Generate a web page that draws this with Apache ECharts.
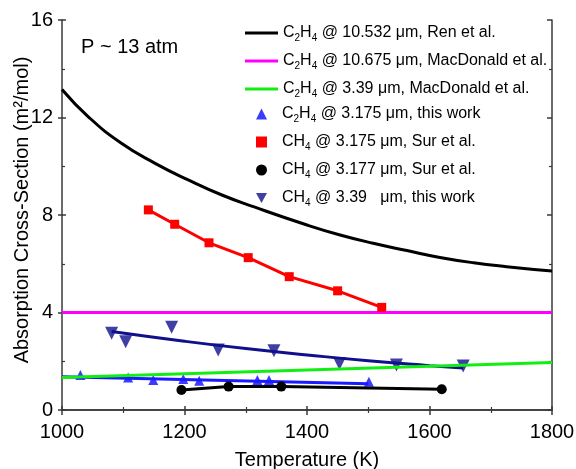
<!DOCTYPE html>
<html>
<head>
<meta charset="utf-8">
<script src="https://cdn.jsdelivr.net/npm/echarts@6/dist/echarts.min.js"></script>
<style>
  html, body { margin: 0; padding: 0; background: #fff; }
  #chart { width: 576px; height: 469px; }
</style>
</head>
<body>
<div id="chart"></div>
<script>
// C2H4 @ 10.532 um, Ren et al. (curve)
const renT = [1000, 1043, 1097, 1152, 1206, 1261, 1315, 1400, 1454, 1508, 1563, 1617, 1672, 1726, 1800]
const renY = [13.15, 12.03, 10.94, 10.12, 9.44, 8.82, 8.32, 7.59, 7.18, 6.84, 6.54, 6.26, 6.04, 5.88, 5.70]

// C2H4 @ 10.675 um, MacDonald (flat)
const macT = [1000, 1800]
const macY = [4.0, 4.0]

// C2H4 @ 3.39 um, MacDonald
const mac339T = [1000, 1800]
const mac339Y = [1.33, 1.95]

// C2H4 @ 3.175 um, this work
const c2h4T = [1030, 1108, 1149, 1198, 1224, 1319, 1338, 1501]
const c2h4Y = [1.44, 1.33, 1.23, 1.27, 1.20, 1.23, 1.23, 1.16]
const c2h4FitT = [1000, 1500]
const c2h4FitY = [1.36, 1.08]

// CH4 @ 3.175 um, Sur
const surT = [1141, 1184, 1240, 1304, 1371, 1450, 1522]
const surY = [8.21, 7.62, 6.86, 6.25, 5.47, 4.89, 4.21]

// CH4 @ 3.177 um, Sur
const sur177T = [1195, 1272, 1358, 1620]
const sur177Y = [0.82, 0.96, 0.96, 0.85]

// CH4 @ 3.39 um, this work
const ch4T = [1081, 1104, 1179, 1255, 1346, 1453, 1546, 1655]
const ch4Y = [3.15, 2.80, 3.39, 2.46, 2.43, 1.91, 1.85, 1.81]
const ch4FitT = [1081, 1200, 1300, 1400, 1500, 1600, 1655]
const ch4FitY = [3.22, 2.82, 2.52, 2.26, 2.02, 1.82, 1.72]

const names = [
  'C2H4 @ 10.532 μm, Ren et al.',
  'C2H4 @ 10.675 μm, MacDonald et al.',
  'C2H4 @ 3.39 μm, MacDonald et al.',
  'C2H4 @ 3.175 μm, this work',
  'CH4 @ 3.175 μm, Sur et al.',
  'CH4 @ 3.177 μm, Sur et al.',
  'CH4 @ 3.39   μm, this work'
]

const pairs = (xs, ys) => xs.map((x, i) => [x, ys[i]])

// legend text with subscripts
const richName = (name) => {
  return name
    .replace(/^C2H4/, '{t|C}{s|2}{t|H}{s|4}')
    .replace(/^CH4/, '{t|CH}{s|4}')
    .replace(/\}([^{}]+)$/, '}{t|$1}')
}

const font = "'Liberation Sans', Arial, sans-serif"
const frame = '#3a3a3a'
const lineIcon = 'path://M0,0h33v3.2h-33z'
const downTriIcon = 'path://M0,0L10,0L5,9Z'
const rowH = 27
const legendTop = 25

const richStyle = {
  t: { fontSize: 16, fontFamily: font, color: '#000', lineHeight: 20 },
  s: { fontSize: 10, fontFamily: font, color: '#000', lineHeight: 10, verticalAlign: 'bottom' },
  p: { width: 10 }
}

const chart = echarts.init(document.getElementById('chart'))

const baseX = { type: 'value', min: 1000, max: 1800, interval: 200, splitLine: { show: false } }
const baseY = { type: 'value', min: 0, max: 16, interval: 4, splitLine: { show: false } }

chart.setOption({
  animation: false,
  grid: { left: 62, right: 24, top: 20, bottom: 59, containLabel: false, outerBoundsMode: 'none' },
  graphic: [{
    type: 'text', left: 81, top: 37,
    style: { text: 'P ~ 13 atm', font: '20px ' + font, fill: '#000' }
  }],
  legend: [
    {
      orient: 'vertical',
      left: 245,
      top: legendTop,
      padding: 0,
      itemWidth: 33,
      itemHeight: 12,
      itemGap: 10,
      data: [
        { name: names[0], icon: lineIcon },
        { name: names[1], icon: lineIcon },
        { name: names[2], icon: lineIcon }
      ],
      formatter: richName,
      textStyle: { rich: richStyle }
    },
    {
      orient: 'vertical',
      left: 256,
      top: legendTop + 3 * rowH,
      padding: 0,
      itemWidth: 11,
      itemHeight: 11,
      itemGap: 10,
      data: [
        { name: names[3], icon: 'triangle' },
        { name: names[4], icon: 'rect' },
        { name: names[5], icon: 'circle' },
        { name: names[6], icon: downTriIcon }
      ],
      formatter: (name) => '{p|}' + richName(name),
      textStyle: { rich: richStyle }
    }
  ],
  xAxis: [
    {
      ...baseX, position: 'bottom',
      name: 'Temperature (K)', nameLocation: 'middle', nameGap: 40, nameMoveOverlap: false,
      nameTextStyle: { fontSize: 20, fontFamily: font, color: '#000' },
      axisLine: { lineStyle: { color: frame, width: 1.5 } },
      axisTick: { inside: false, length: 4, lineStyle: { color: frame, width: 1.5 } },
      axisLabel: { fontSize: 20, fontFamily: font, color: '#000', margin: 12, formatter: (v) => String(v) }
    },
    {
      ...baseX, position: 'top',
      axisLine: { lineStyle: { color: frame, width: 1.5 } },
      axisTick: { inside: true, length: 5, lineStyle: { color: frame, width: 1.5 } },
      minorTick: { show: true, splitNumber: 2, length: 3, lineStyle: { color: frame, width: 1.2 } },
      axisLabel: { show: false }
    },
    {
      ...baseX, position: 'bottom',
      axisLine: { show: false },
      axisTick: { inside: true, length: 4, lineStyle: { color: frame, width: 1.5 } },
      minorTick: { show: true, splitNumber: 2, length: 3, lineStyle: { color: frame, width: 1.2 } },
      axisLabel: { show: false }
    }
  ],
  yAxis: [
    {
      ...baseY, position: 'left',
      name: 'Absorption Cross-Section (m²/mol)', nameLocation: 'middle', nameGap: 30, nameMoveOverlap: false,
      nameTextStyle: { fontSize: 20, fontFamily: font, color: '#000', padding: [0, 0, 0, 10] },
      axisLine: { lineStyle: { color: frame, width: 1.5 } },
      axisTick: { inside: false, length: 4, lineStyle: { color: frame, width: 1.5 } },
      axisLabel: { fontSize: 20, fontFamily: font, color: '#000', margin: 9 }
    },
    {
      ...baseY, position: 'right',
      axisLine: { lineStyle: { color: frame, width: 1.5 } },
      axisTick: { inside: true, length: 5, lineStyle: { color: frame, width: 1.5 } },
      minorTick: { show: true, splitNumber: 2, length: 3, lineStyle: { color: frame, width: 1.2 } },
      axisLabel: { show: false }
    },
    {
      ...baseY, position: 'left',
      axisLine: { show: false },
      axisTick: { inside: true, length: 4, lineStyle: { color: frame, width: 1.5 } },
      minorTick: { show: true, splitNumber: 2, length: 3, lineStyle: { color: frame, width: 1.2 } },
      axisLabel: { show: false }
    }
  ],
  series: [
    {
      name: names[0], type: 'line', smooth: true, symbol: 'none',
      data: pairs(renT, renY),
      lineStyle: { color: '#000', width: 3 }, itemStyle: { color: '#000' }
    },
    {
      name: 'c2h4fit', type: 'line', symbol: 'none',
      data: pairs(c2h4FitT, c2h4FitY),
      lineStyle: { color: '#1a1aff', width: 3 }
    },
    {
      name: 'ch4fit', type: 'line', symbol: 'none', smooth: true,
      data: pairs(ch4FitT, ch4FitY),
      lineStyle: { color: '#10108c', width: 3 }
    },
    {
      name: names[3], type: 'scatter', symbol: 'triangle', symbolSize: 10,
      data: pairs(c2h4T, c2h4Y),
      itemStyle: { color: '#0a0aff' }
    },
    {
      name: names[6], type: 'scatter', symbol: 'triangle', symbolRotate: 180, symbolSize: 13,
      data: pairs(ch4T, ch4Y),
      itemStyle: { color: '#10108c' }
    },
    {
      name: names[4], type: 'line', symbol: 'rect', symbolSize: 9,
      data: pairs(surT, surY),
      lineStyle: { color: '#ff0000', width: 3 }, itemStyle: { color: '#ff0000' }
    },
    {
      name: names[5], type: 'line', symbol: 'circle', symbolSize: 10,
      data: pairs(sur177T, sur177Y),
      lineStyle: { color: '#000', width: 3 }, itemStyle: { color: '#000' }
    },
    {
      name: names[1], type: 'line', symbol: 'none',
      data: pairs(macT, macY),
      lineStyle: { color: '#ff00ff', width: 3 }, itemStyle: { color: '#ff00ff' }
    },
    {
      name: names[2], type: 'line', symbol: 'none',
      data: pairs(mac339T, mac339Y),
      lineStyle: { color: '#11ee11', width: 3 }, itemStyle: { color: '#11ee11' }
    }
  ]
})
</script>
</body>
</html>
